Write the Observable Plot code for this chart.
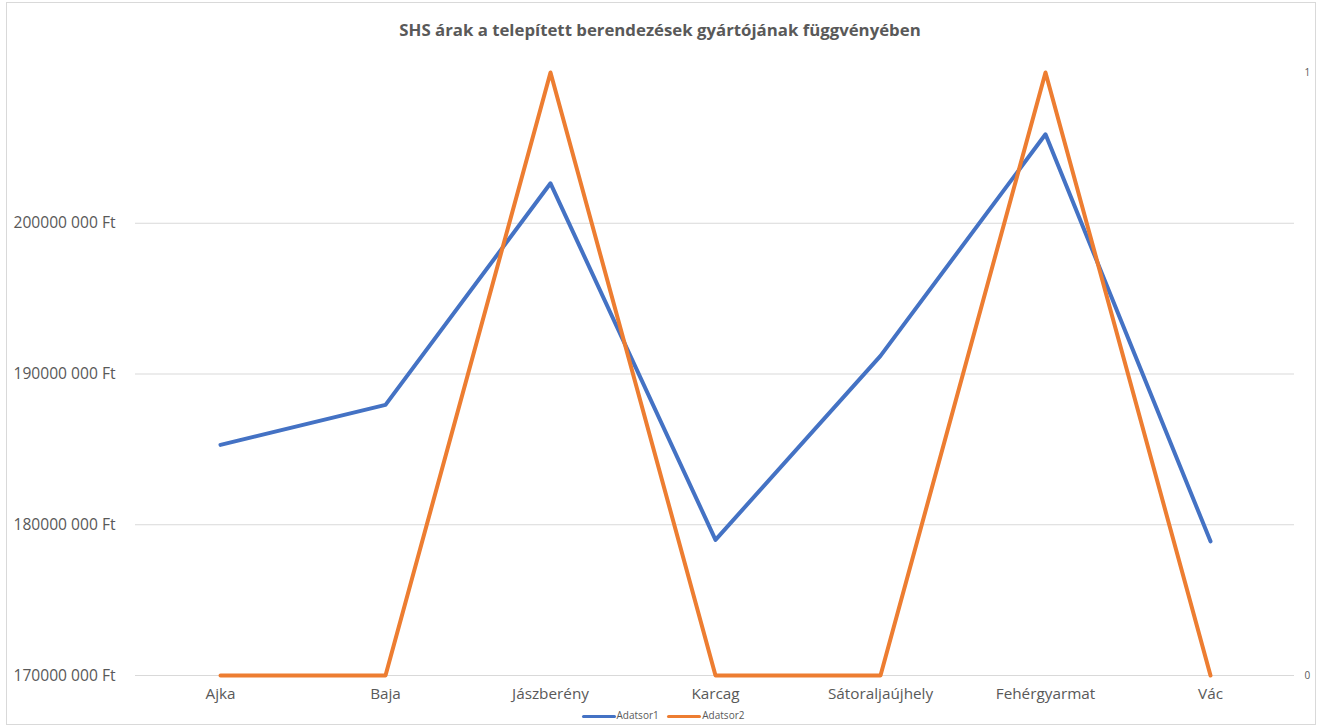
<!DOCTYPE html>
<html><head><meta charset="utf-8">
<script src="https://cdn.jsdelivr.net/npm/d3@7"></script>
<script src="https://cdn.jsdelivr.net/npm/@observablehq/plot@0.6"></script>
<style>
body{margin:0;background:#fff;font-family:"Open Sans",sans-serif;width:1320px;height:727px;overflow:hidden;position:relative;}
#frame{position:absolute;left:6px;top:2px;width:1310px;height:723px;border:1px solid #d9d9d9;box-sizing:border-box;}
#title{position:absolute;left:0;top:18px;width:1320px;text-align:center;font-weight:bold;font-size:16.8px;color:#595959;line-height:24px;}
#chart{position:absolute;left:0;top:51px;}
#legend{position:absolute;top:707px;left:0;width:1320px;text-align:center;font-size:10px;color:#595959;line-height:16px;}
.sw{display:inline-block;width:34px;height:3px;vertical-align:middle;margin:0 1px 0 6px;border-radius:2px;}
</style></head><body>
<div id="frame"></div>
<div id="title">SHS árak a telepített berendezések gyártójának függvényében</div>
<div id="chart"></div>
<div id="legend"><span class="sw" style="background:#4472C4"></span>Adatsor1 <span class="sw" style="background:#ED7D31"></span>Adatsor2</div>
<script>
const categories = ["Ajka","Baja","Jászberény","Karcag","Sátoraljaújhely","Fehérgyarmat","Vác"];
const adatsor1 = [185300000, 187950000, 202650000, 179000000, 191200000, 205900000, 178900000];
const adatsor2 = [0, 0, 1, 0, 0, 1, 0];
const leftTicks = [170000000, 180000000, 190000000, 200000000];
const rightTicks = [0, 1];
const Y0 = 170000000, Y1 = 210000000;
const toLeft = v => Y0 + v * (Y1 - Y0);

const rows = categories.map((c, i) => ({cat: c, v1: adatsor1[i], v2: adatsor2[i]}));

const chart = Plot.plot({
  width: 1320,
  height: 655,
  marginTop: 21,
  marginBottom: 31,
  marginLeft: 135,
  marginRight: 26,
  style: {color: "#595959", fontFamily: "'Open Sans', sans-serif", background: "transparent"},
  x: {type: "point", domain: categories, padding: 0.5},
  y: {domain: [Y0, Y1]},
  marks: [
    Plot.ruleY(leftTicks, {stroke: "#d9d9d9", strokeWidth: 1}),
    Plot.axisY(leftTicks, {anchor: "left", tickSize: 0, tickPadding: 20, fontSize: 15.6, label: null,
      tickFormat: d => `${Math.round(d / 1000)} 000 Ft`}),
    Plot.axisY(rightTicks.map(toLeft), {anchor: "right", tickSize: 0, tickPadding: 10, fontSize: 10, label: null,
      tickFormat: d => String(Math.round((d - Y0) / (Y1 - Y0)))}),
    Plot.axisX(categories, {tickSize: 0, tickPadding: 13, fontSize: 15.3, label: null}),
    Plot.lineY(rows, {x: "cat", y: "v1", stroke: "#4472C4", strokeWidth: 4, strokeLinejoin: "round", strokeLinecap: "round"}),
    Plot.lineY(rows, {x: "cat", y: d => toLeft(d.v2), stroke: "#ED7D31", strokeWidth: 4, strokeLinejoin: "round", strokeLinecap: "round"})
  ]
});
document.getElementById("chart").appendChild(chart);
</script>
</body></html>
